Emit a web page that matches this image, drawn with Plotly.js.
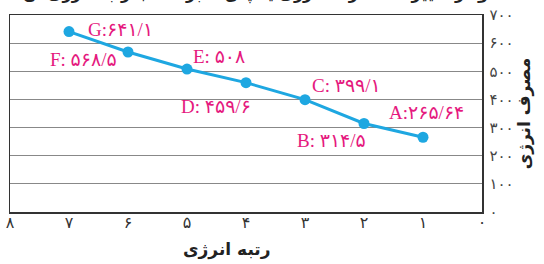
<!DOCTYPE html>
<html>
<head>
<meta charset="utf-8">
<script src="https://cdn.plot.ly/plotly-3.0.1.min.js"></script>
<style>html,body{margin:0;padding:0;background:#fff;}#chart{width:544px;height:264px;}</style>
</head>
<body>
<div id="chart"></div>
<script>
// ---- data ----
const ranks = [1, 2, 3, 4, 5, 6, 7];
const energy = [265.64, 314.5, 399.1, 459.6, 508, 568.5, 641.1];
const pointLabels = ['A', 'B', 'C', 'D', 'E', 'F', 'G'];
const xTickVals = [8, 7, 6, 5, 4, 3, 2, 1, 0];
const yTickVals = [0, 100, 200, 300, 400, 500, 600, 700];
const xTitle = 'رتبه انرژی';
const yTitle = 'مصرف انرژی';
const chartTitle = 'نمودار تغییرات مصرف انرژی یخچال‌ها بر حسب رتبه انرژی آن‌ها';

// ---- helpers ----
const FA = '۰۱۲۳۴۵۶۷۸۹';
function toFa(n) { return String(n).replace('.', '/').replace(/\d/g, d => FA[d]); }

// label placement (style only)
const labelSep = [':', ': ', ': ', ': ', ': ', ': ', ':'];
const labelPos = [
  {xanchor: 'center', xshift: 3, yshift: 25},
  {xanchor: 'right', xshift: 4, yshift: -17},
  {xanchor: 'left', xshift: 5, yshift: 14},
  {xanchor: 'right', xshift: 7, yshift: -24},
  {xanchor: 'left', xshift: 4, yshift: 13},
  {xanchor: 'right', xshift: -9, yshift: -7},
  {xanchor: 'left', xshift: 17, yshift: 2}
];

const pink = '#e5197e';
const blue = '#1ea7e1';
const labelFont = {family: 'Liberation Serif, DejaVu Sans, serif', size: 19, color: pink};

const annotations = ranks.map((r, i) => Object.assign({
  x: r, y: energy[i], xref: 'x', yref: 'y',
  text: pointLabels[i] + labelSep[i] + toFa(energy[i]),
  showarrow: false, yanchor: 'middle', font: labelFont
}, labelPos[i]));

// x-axis title
annotations.push({
  xref: 'paper', yref: 'paper', x: 0.5, y: 0, xshift: -19, yshift: -37,
  text: '<b>' + xTitle + '</b>', showarrow: false, xanchor: 'center', yanchor: 'middle',
  font: {family: 'DejaVu Sans', size: 17, color: '#222'}
});
// cropped title at the top
annotations.push({
  xref: 'paper', yref: 'paper', x: 0.52, y: 1, yshift: 22,
  text: '<b>' + chartTitle + '</b>', showarrow: false, xanchor: 'center', yanchor: 'middle',
  font: {family: 'DejaVu Sans', size: 16, color: '#222'}
});

const trace = {
  x: ranks, y: energy, type: 'scatter', mode: 'lines+markers',
  line: {color: blue, width: 3},
  marker: {color: blue, size: 11},
  hoverinfo: 'skip', cliponaxis: false
};

const layout = {
  width: 544, height: 264,
  margin: {l: 10, r: 62, t: 15, b: 52},
  paper_bgcolor: '#fff', plot_bgcolor: '#fff',
  showlegend: false,
  xaxis: {
    range: [8, 0], tickvals: xTickVals, ticktext: xTickVals.map(toFa),
    showgrid: false, zeroline: false, showline: true, mirror: true,
    linecolor: '#333', linewidth: 1.5, ticks: '', ticklabelstandoff: -5,
    tickfont: {family: 'DejaVu Sans', size: 16, color: '#333'},
    fixedrange: true
  },
  yaxis: {
    range: [0, 700], tickvals: yTickVals, ticktext: yTickVals.map(toFa),
    side: 'right', showgrid: true, gridcolor: '#888', gridwidth: 1,
    zeroline: false, showline: true, mirror: true, linecolor: '#333', linewidth: 1.5,
    ticks: '', ticklabelstandoff: 3,
    tickfont: {family: 'DejaVu Sans', size: 15, color: '#444'},
    title: {text: '<b>' + yTitle + '</b>', standoff: 3, font: {family: 'DejaVu Sans', size: 17, color: '#222'}},
    fixedrange: true
  },
  annotations: annotations
};

Plotly.newPlot('chart', [trace], layout, {displayModeBar: false, staticPlot: true});
</script>
</body>
</html>
